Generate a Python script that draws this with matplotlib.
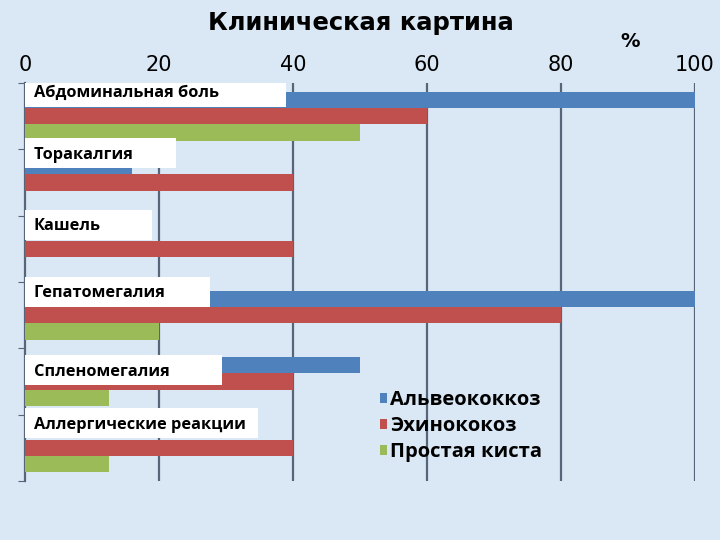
import matplotlib.pyplot as plt
import numpy as np
from matplotlib.patches import Rectangle

categories = ["Абдоминальная боль", "Торакалгия", "Кашель",
              "Гепатомегалия", "Спленомегалия", "Аллергические реакции"]
alveo = [100, 16, 0, 100, 50, 0]
echino = [60, 40, 40, 80, 40, 40]
cyst = [50, 0, 0, 20, 12.5, 12.5]
series_names = ["Альвеококкоз", "Эхинококоз", "Простая киста"]
xticks = [0, 20, 40, 60, 80, 100]

# label box placement (style only)
box_dy = [-0.37, -0.44, -0.36, -0.35, -0.17, -0.37]
box_w = [39, 22.5, 19, 27.6, 29.4, 34.8]

bg = "#dae7f4"
colors = ["#4f81bd", "#c0504d", "#9bbb59"]
grid_c = "#56657a"

fig = plt.figure(figsize=(7.2, 5.4), dpi=100, facecolor=bg)
ax = fig.add_axes([25 / 720, 1 - 481 / 540, 670 / 720, (481 - 83) / 540])
ax.set_facecolor(bg)

y = np.arange(len(categories))
h = 0.245
for i, (vals, c, name) in enumerate(zip([alveo, echino, cyst], colors, series_names)):
    ax.barh(y + (i - 1) * h, vals, height=h, color=c, label=name, zorder=3)

for x in xticks[1:]:
    ax.axvline(x, color=grid_c, lw=1.6, zorder=1)

for yi, lab, dy, w in zip(y, categories, box_dy, box_w):
    ax.add_patch(Rectangle((0, yi + dy - 0.225), w, 0.45, fc="white", ec="none", zorder=4))
    ax.text(1.3, yi + dy + 0.02, lab, fontsize=11.8, fontweight="bold",
            family=["Open Sans", "DejaVu Sans"], va="center", ha="left", zorder=5)

ax.set_xlim(0, 100)
ax.set_ylim(len(categories) - 0.5, -0.5)
ax.xaxis.tick_top()
ax.set_xticks(xticks)
ax.set_xticklabels([str(t) for t in xticks], fontsize=15,
                   family=["Liberation Sans Narrow", "DejaVu Sans"])
ax.tick_params(axis="x", length=0, pad=6)
ax.set_yticks(np.arange(len(categories) + 1) - 0.5)
ax.set_yticklabels([])
ax.tick_params(axis="y", length=5, color=grid_c, direction="out")
for s in ["top", "right", "bottom"]:
    ax.spines[s].set_visible(False)
ax.spines["left"].set_color(grid_c)
ax.spines["left"].set_linewidth(1.6)

fig.text(361 / 720, 1 - 23 / 540, "Клиническая картина", ha="center", va="center",
         fontsize=17.5, fontweight="bold", family=["DejaVu Sans"])
fig.text(630 / 720, 1 - 42 / 540, "%", ha="center", va="center",
         fontsize=14, fontweight="bold", family=["DejaVu Sans"])

leg = ax.legend(loc="upper left", bbox_to_anchor=(372 / 720, 1 - 382 / 540),
                bbox_transform=fig.transFigure, frameon=False,
                handlelength=0.35, handleheight=0.35, handletextpad=0.15,
                labelspacing=0.3, borderaxespad=0,
                prop={"family": ["Open Sans", "DejaVu Sans"], "weight": "bold", "size": 14.5})

fig.savefig("out.png", dpi=100, facecolor=bg)
